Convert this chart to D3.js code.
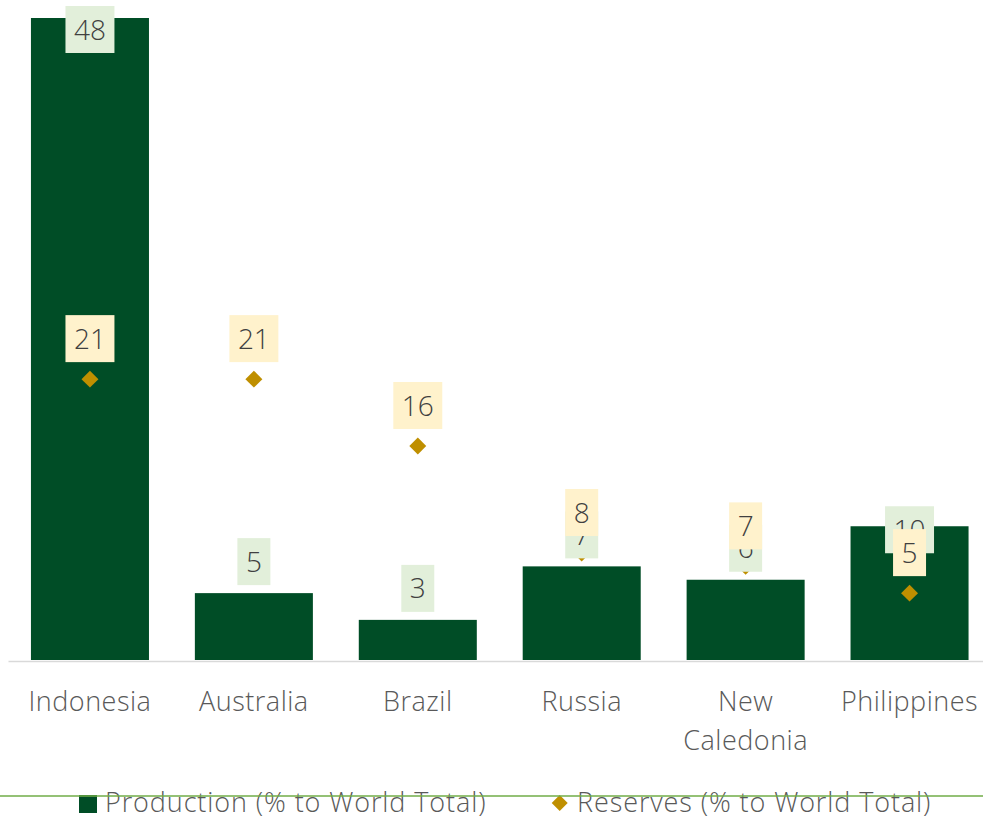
<!DOCTYPE html>
<html>
<head>
<meta charset="utf-8">
<script src="https://cdn.jsdelivr.net/npm/d3@7"></script>
<style>
  html, body { margin: 0; padding: 0; background: #ffffff; }
  svg { display: block; font-family: "Open Sans", "Noto Sans", sans-serif; }
</style>
</head>
<body>
<svg id="chart" width="983" height="816"></svg>
<script>
// Nickel: share of world production and reserves by country
const countries = ["Indonesia", "Australia", "Brazil", "Russia", "New Caledonia", "Philippines"];
const production = [48, 5, 3, 7, 6, 10];
const reserves = [21, 21, 16, 8, 7, 5];
const seriesNames = ["Production (% to World Total)", "Reserves (% to World Total)"];

const W = 983, H = 816;
const baseY = 660, topY = 18;
const barColor = "#004D26";
const diamondColor = "#BF8F00";
const prodBoxColor = "#E2EFDA";
const resBoxColor = "#FFF2CC";
const labelText = "#404040";
const axisText = "#595959";

const svg = d3.select("#chart");

const x = d3.scaleBand()
  .domain(countries)
  .range([8, 991.5])
  .paddingInner(0.28)
  .paddingOuter(0.14);

const y = d3.scaleLinear()
  .domain([0, d3.max(production)])
  .range([baseY, topY]);

const rows = countries.map((c, i) => ({ country: c, prod: production[i], res: reserves[i] }));

// Columns
svg.append("g").selectAll("rect")
  .data(rows)
  .join("rect")
  .attr("x", d => x(d.country))
  .attr("y", d => y(d.prod))
  .attr("width", x.bandwidth())
  .attr("height", d => baseY - y(d.prod))
  .attr("fill", barColor);

// Category axis
const axis = svg.append("g")
  .attr("transform", `translate(0,${baseY + 1})`)
  .call(d3.axisBottom(x).tickSize(0).tickPadding(0).tickFormat(""));
axis.select(".domain").attr("stroke", "#D9D9D9").attr("stroke-width", 1.5);

const catLabels = svg.append("g").selectAll("text")
  .data(countries)
  .join("text")
  .attr("x", d => x(d) + x.bandwidth() / 2)
  .attr("y", 711)
  .attr("text-anchor", "middle")
  .attr("fill", axisText)
  .style("font-size", "27px")
  .style("font-weight", 300)
  .style("letter-spacing", "0.5px");
catLabels.each(function (d) {
  const words = d.split(" ");
  const t = d3.select(this);
  words.forEach((w, k) => {
    t.append("tspan")
      .attr("x", x(d) + x.bandwidth() / 2)
      .attr("dy", k === 0 ? 0 : 39)
      .text(w);
  });
});

// Reserve markers
const diamond = d3.symbol().type(d3.symbolSquare).size(144);
svg.append("g").selectAll("path")
  .data(rows)
  .join("path")
  .attr("d", diamond)
  .attr("transform", d => `translate(${x(d.country) + x.bandwidth() / 2},${y(d.res)}) rotate(45)`)
  .attr("fill", diamondColor);

// Boxed value labels
const boxH = 47;
function boxedLabel(g, cx, boxTop, value, fill) {
  const grp = g.append("g");
  const rect = grp.append("rect").attr("fill", fill);
  const txt = grp.append("text")
    .attr("x", cx)
    .attr("y", boxTop + boxH / 2)
    .attr("dy", "0.36em")
    .attr("text-anchor", "middle")
    .attr("fill", labelText)
    .style("font-size", "28px")
    .style("font-weight", 300)
    .text(value);
  const w = txt.node().getComputedTextLength() + 17;
  rect.attr("x", cx - w / 2).attr("y", boxTop).attr("width", w).attr("height", boxH);
}

// Production labels sit above each column; a few are moved to stay readable
const prodShift = { "Philippines": 35 };
const prodLabels = svg.append("g");
rows.forEach(d => {
  const cx = x(d.country) + x.bandwidth() / 2;
  let top = y(d.prod) - 8 - boxH + (prodShift[d.country] || 0);
  top = Math.max(6, top);
  boxedLabel(prodLabels, cx, top, d.prod, prodBoxColor);
});

// Reserve labels above each marker
const resLabels = svg.append("g");
rows.forEach(d => {
  const cx = x(d.country) + x.bandwidth() / 2;
  const top = y(d.res) - 17 - boxH;
  boxedLabel(resLabels, cx, top, d.res, resBoxColor);
});

// Legend
const legend = svg.append("g");
legend.append("rect")
  .attr("x", 79).attr("y", 795).attr("width", 18).attr("height", 18)
  .attr("fill", barColor);
legend.append("text")
  .attr("x", 105).attr("y", 811.5)
  .attr("fill", axisText)
  .style("font-size", "27px")
  .style("font-weight", 300)
  .style("letter-spacing", "0.9px")
  .text(seriesNames[0]);
legend.append("path")
  .attr("d", d3.symbol().type(d3.symbolSquare).size(128))
  .attr("transform", "translate(559.7,803) rotate(45)")
  .attr("fill", diamondColor);
legend.append("text")
  .attr("x", 577).attr("y", 811.5)
  .attr("fill", axisText)
  .style("font-size", "27px")
  .style("font-weight", 300)
  .style("letter-spacing", "0.9px")
  .text(seriesNames[1]);

// Thin rule across the legend row
svg.append("line")
  .attr("x1", 0).attr("x2", W)
  .attr("y1", 796).attr("y2", 796)
  .attr("stroke", "#70AD47")
  .attr("stroke-width", 1.3);
</script>
</body>
</html>
